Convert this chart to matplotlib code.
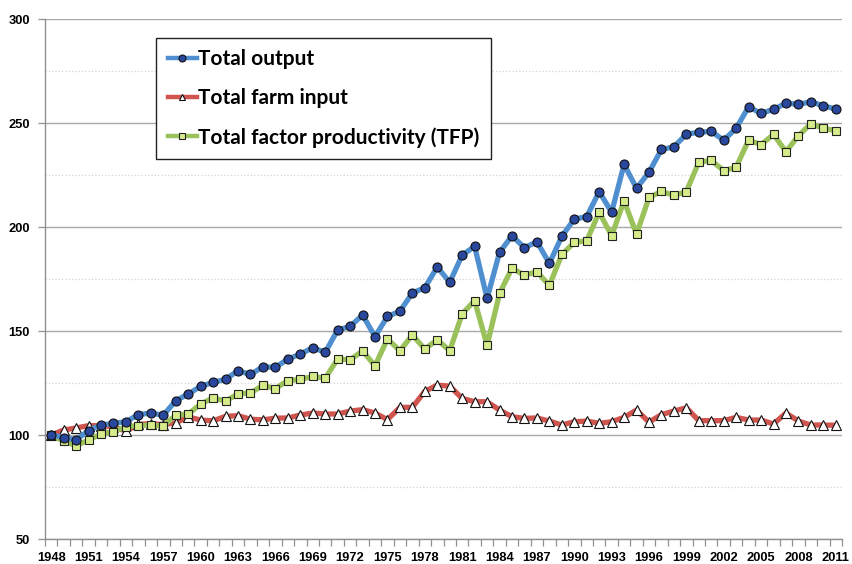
import numpy as np
import matplotlib
matplotlib.use("Agg")
import matplotlib.pyplot as plt
from matplotlib.ticker import MultipleLocator, FixedLocator

years = list(range(1948, 2012))

# index, 1948 = 100
total_output = [100, 98.8, 97.7, 102.1, 104.8, 105.6, 106.4, 109.8, 110.6, 109.5,
                116.5, 119.7, 123.4, 125.3, 126.8, 130.9, 129.1, 132.8, 132.5, 136.5,
                138.9, 142.0, 139.7, 150.5, 152.2, 157.7, 147.3, 157.0, 159.5, 168.3,
                170.8, 180.8, 173.4, 186.5, 190.7, 165.7, 187.8, 195.8, 190.0, 192.9,
                182.5, 195.5, 203.8, 205.0, 217.0, 207.1, 230.1, 218.6, 226.3, 237.3,
                238.5, 244.7, 245.5, 246.0, 241.7, 247.5, 257.8, 254.6, 256.6, 259.5,
                259.0, 260.2, 258.3, 256.7]

farm_input = [100, 102.4, 103.4, 104.5, 104.5, 104.0, 101.8, 105.1, 105.5, 105.0,
              105.9, 108.7, 107.2, 106.8, 109.0, 109.3, 107.6, 107.3, 108.1, 108.2,
              109.6, 110.6, 110.1, 110.1, 111.5, 112.2, 110.6, 107.4, 113.3, 113.3,
              121.0, 124.0, 123.5, 117.6, 116.0, 116.0, 112.0, 108.8, 108.0, 108.2,
              106.7, 104.8, 106.4, 106.7, 105.6, 106.4, 108.5, 112.0, 106.2, 109.8,
              111.5, 113.1, 106.9, 106.9, 106.9, 108.5, 107.2, 107.2, 105.3, 110.6,
              106.7, 104.8, 104.8, 104.7]

tfp = [100, 97.0, 94.9, 97.6, 100.5, 101.6, 104.0, 104.5, 104.8, 104.3,
       109.6, 110.1, 114.9, 117.8, 116.3, 119.8, 120.2, 123.9, 122.3, 126.2,
       126.7, 128.2, 127.3, 136.5, 136.2, 140.4, 133.3, 146.2, 140.5, 148.1,
       141.3, 145.8, 140.5, 158.3, 164.6, 143.1, 168.1, 180.2, 176.8, 178.5,
       171.9, 186.8, 192.6, 193.4, 207.1, 195.8, 212.6, 196.5, 214.2, 217.1,
       215.2, 217.0, 231.2, 232.0, 227.1, 228.8, 241.8, 239.6, 244.5, 236.2,
       243.9, 249.7, 247.5, 246.2]

x = np.arange(len(years))

fig = plt.figure(figsize=(8.52, 5.64), dpi=100)
ax = fig.add_axes([0.0528, 0.0443, 0.9355, 0.922])

ax.plot(x, total_output, color='#4f8fd0', lw=3.8, marker='o', ms=6.5,
        mfc='#2a479e', mec='#111111', mew=0.8, label='Total output', zorder=4)
ax.plot(x, farm_input, color='#d0554f', lw=3.8, marker='^', ms=6.5,
        mfc='white', mec='#111111', mew=0.8, label='Total farm input', zorder=3)
ax.plot(x, tfp, color='#9bc15a', lw=3.8, marker='s', ms=6,
        mfc='#d6ec8a', mec='#222222', mew=0.8,
        label='Total factor productivity (TFP)', zorder=3)

ax.set_xlim(-0.5, len(years) - 0.5)
ax.set_ylim(50, 300)

# y grid: solid major lines, dotted minor lines
ax.yaxis.set_major_locator(MultipleLocator(50))
ax.yaxis.set_minor_locator(MultipleLocator(25))
ax.grid(axis='y', which='major', color='#a8a8a8', lw=1.0)
ax.grid(axis='y', which='minor', color='#d4d4d4', lw=0.9, ls=':')
ax.set_axisbelow(True)

# x labels every 3 years, tick marks between categories
ax.xaxis.set_major_locator(FixedLocator(x[::3]))
ax.set_xticklabels([str(y) for y in years[::3]])
ax.xaxis.set_minor_locator(FixedLocator(np.arange(-0.5, len(years), 1)))
ax.tick_params(axis='x', which='major', length=0, pad=9)
ax.tick_params(axis='x', which='minor', length=5, color='#909090', width=0.9)
ax.tick_params(axis='y', which='major', length=5, color='#909090', width=0.9, pad=6)
ax.tick_params(axis='y', which='minor', length=0)
for lab in ax.get_xticklabels() + ax.get_yticklabels():
    lab.set_fontweight('bold')
    lab.set_fontsize(9.3)
    lab.set_fontfamily('Liberation Sans')

for s in ['top', 'right']:
    ax.spines[s].set_visible(False)
for s in ['left', 'bottom']:
    ax.spines[s].set_color('#909090')
    ax.spines[s].set_linewidth(1.0)

leg = ax.legend(loc='upper left', bbox_to_anchor=(0.1395, 0.9635),
                borderaxespad=0, fancybox=False, framealpha=1,
                edgecolor='#222222', handlelength=1.4, handletextpad=0.05,
                labelspacing=0.9, borderpad=0.55,
                prop={'family': 'Lato', 'weight': 'bold', 'size': 15})
leg.get_frame().set_linewidth(1.0)
for h in leg.legend_handles:
    h.set_markersize(5)
    h.set_linewidth(3.2)

fig.savefig('out.png', dpi=100)
